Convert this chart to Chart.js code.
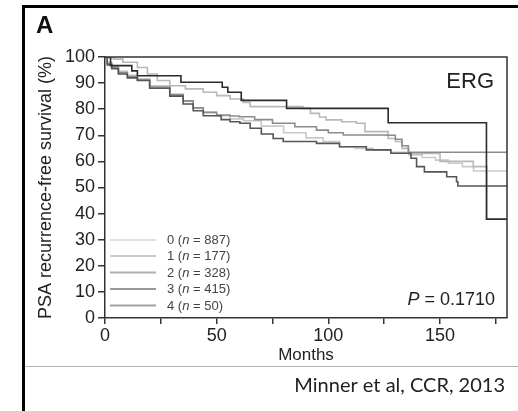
<!DOCTYPE html>
<html>
<head>
<meta charset="utf-8">
<script src="https://cdn.jsdelivr.net/npm/chart.js@4"></script>
<style>
  html, body { margin: 0; padding: 0; background: #fff; }
</style>
</head>
<body>
<canvas id="km" width="518" height="411"></canvas>
<script>
// --- KAPLAN-MEIER DATA ---
const groupLabels = ['0', '1', '2', '3', '4'];
const groupN = [887, 177, 328, 415, 50];

const months0 = [0, 1, 3, 6, 10, 14.5, 20, 29, 35, 39.5, 44, 50, 56, 62, 70, 80, 90, 97.7, 105, 112, 120, 128, 136, 142, 148, 153.7, 160, 165, 180];
const surv0   = [100, 98, 96.5, 94.5, 93, 91.6, 89, 85.8, 83, 80.5, 78.8, 77.5, 76.3, 75.6, 73.5, 71, 69, 67.6, 65.6, 65, 64.4, 63.5, 62.5, 61.5, 60.5, 59.3, 58, 56.3, 56.3];

const months1 = [0, 2, 4, 8, 14.5, 19, 23.4, 29, 36, 44, 50, 56, 62, 65, 88.6, 92, 96, 99, 106, 112.6, 116.4, 126.8, 130, 133, 136, 150, 164.9, 171];
const surv1   = [100, 99.5, 99.2, 98, 96, 93.5, 91, 89, 87.8, 86.5, 85.2, 83.9, 82.6, 81, 80.3, 78.4, 77, 75.9, 75.2, 74.6, 71.4, 68.8, 67.6, 65, 63, 60, 58, 37.9];

const months2 = [0, 1, 3, 6, 10, 14.5, 20, 29, 35, 39.5, 44, 50, 56, 60, 67, 75, 85, 94.7, 100, 106.7, 126, 130, 133, 135.8, 180];
const surv2   = [100, 97.5, 96, 94, 92.5, 91.2, 88.5, 85.5, 83.2, 80.5, 78.8, 77.8, 77.4, 77.1, 76, 74.6, 73.3, 72, 71, 70.1, 70, 68.5, 66, 63.5, 63.5];

const months3 = [0, 1, 3, 6, 10, 14.5, 20, 29, 35, 39.5, 44, 52, 56, 60.4, 65, 70, 75.3, 79.8, 94.7, 105, 117, 128, 137, 139.5, 143, 153, 157.4, 158, 180];
const surv3   = [100, 97, 95.5, 93.5, 92, 91, 88, 85, 82, 79.4, 77.5, 76, 75.2, 74.6, 72.7, 70.5, 68.8, 67.6, 66.9, 65.6, 64.4, 63.1, 61.2, 58, 56, 54.1, 52.2, 50.6, 50.6];

const months4 = [0, 2.5, 12, 14.5, 34, 52.5, 55, 61, 81.3, 126.8, 170.8, 180];
const surv4   = [100, 96.7, 94.7, 92.8, 90.3, 88.4, 86.5, 83.4, 80.3, 74.8, 37.9, 37.9];

const xTicks = [0, 25, 50, 75, 100, 125, 150, 175];
const xLabelled = [0, 50, 100, 150];
const yTicks = [0, 10, 20, 30, 40, 50, 60, 70, 80, 90, 100];

// --- STYLE ---
const curveColors = ['#c9c9c9', '#b8b8b8', '#8c8c8c', '#565656', '#2b2b2b'];
const legendColors = ['#e0e0e0', '#cacaca', '#b0b0b0', '#9a9a9a', '#a2a2a2'];
const axisColor = '#333';
const FONT = '"Liberation Sans", Arial, Helvetica, sans-serif';

const allMonths = [months0, months1, months2, months3, months4];
const allSurv = [surv0, surv1, surv2, surv3, surv4];

const datasets = allMonths.map((m, i) => ({
  label: groupLabels[i],
  data: m.map((t, k) => ({ x: t, y: allSurv[i][k] })),
  stepped: 'before',
  borderColor: curveColors[i],
  borderWidth: 1.6,
  pointRadius: 0,
  fill: false,
  order: 5 - i
}));

// figure decorations: panel frame, panel letter, legend, annotations
const decorPlugin = {
  id: 'decor',
  afterDraw(chart) {
    const ctx = chart.ctx;
    const a = chart.chartArea;
    ctx.save();

    // plot box (top + right)
    ctx.strokeStyle = axisColor;
    ctx.lineWidth = 1.5;
    ctx.beginPath();
    ctx.moveTo(a.left, a.top);
    ctx.lineTo(a.right, a.top);
    ctx.lineTo(a.right, a.bottom);
    ctx.stroke();

    // outer panel frame
    ctx.strokeStyle = '#000';
    ctx.lineWidth = 3;
    ctx.beginPath();
    ctx.moveTo(23.5, 411);
    ctx.lineTo(23.5, 6.5);
    ctx.lineTo(518, 6.5);
    ctx.stroke();

    // thin separator above citation
    ctx.strokeStyle = '#b4b4b4';
    ctx.lineWidth = 1;
    ctx.beginPath();
    ctx.moveTo(25, 366.5);
    ctx.lineTo(518, 366.5);
    ctx.stroke();

    // panel letter
    ctx.fillStyle = '#111';
    ctx.font = 'bold 24px ' + FONT;
    ctx.textBaseline = 'alphabetic';
    ctx.textAlign = 'left';
    ctx.fillText('A', 36, 33);

    // ERG label
    ctx.font = '22px ' + FONT;
    ctx.textAlign = 'right';
    ctx.fillStyle = '#222';
    ctx.fillText('ERG', 494, 88);

    // P value
    ctx.font = '18px ' + FONT;
    const pRest = ' = 0.1710';
    const restW = ctx.measureText(pRest).width;
    ctx.textAlign = 'left';
    ctx.fillText(pRest, 495 - restW, 305);
    ctx.font = 'italic 18px ' + FONT;
    const pW = ctx.measureText('P').width;
    ctx.fillText('P', 495 - restW - pW, 305);

    // legend
    const rowY = [240, 256, 272.5, 289, 305.5];
    groupLabels.forEach((g, i) => {
      const y = rowY[i];
      ctx.strokeStyle = legendColors[i];
      ctx.lineWidth = 2;
      ctx.beginPath();
      ctx.moveTo(110, y);
      ctx.lineTo(156, y);
      ctx.stroke();

      ctx.fillStyle = '#444';
      ctx.textBaseline = 'middle';
      let x = 167;
      const parts = [[g + ' (', ''], ['n', 'italic '], [' = ' + groupN[i] + ')', '']];
      parts.forEach(([txt, style]) => {
        ctx.font = style + '13px ' + FONT;
        ctx.fillText(txt, x, y + 0.5);
        x += ctx.measureText(txt).width;
      });
    });

    // citation
    ctx.fillStyle = '#222';
    ctx.font = '20px Lato, "Open Sans", sans-serif';
    ctx.textAlign = 'right';
    ctx.textBaseline = 'alphabetic';
    ctx.fillText('Minner et al, CCR, 2013', 505, 392);

    ctx.restore();
  }
};

new Chart(document.getElementById('km'), {
  type: 'line',
  data: { datasets: datasets },
  options: {
    responsive: false,
    animation: false,
    layout: { padding: { left: 36, top: 57, right: 11, bottom: 46 } },
    plugins: {
      legend: { display: false },
      tooltip: { enabled: false }
    },
    scales: {
      x: {
        type: 'linear',
        min: 0,
        max: 180,
        afterBuildTicks: (scale) => { scale.ticks = xTicks.map(v => ({ value: v })); },
        afterFit: (scale) => { scale.height = 47; },
        ticks: {
          autoSkip: false,
          maxRotation: 0,
          padding: 1,
          color: '#222',
          font: { family: FONT, size: 18 },
          callback: (v) => xLabelled.includes(v) ? String(v) : ''
        },
        grid: { display: true, drawOnChartArea: false, drawTicks: true, tickLength: 6, color: axisColor, lineWidth: 1.5 },
        border: { display: true, color: axisColor, width: 1.5 },
        title: { display: true, text: 'Months', color: '#222', font: { family: FONT, size: 17, lineHeight: 1.1 }, padding: 0 }
      },
      y: {
        min: 0,
        max: 100,
        afterBuildTicks: (scale) => { scale.ticks = yTicks.map(v => ({ value: v })); },
        afterFit: (scale) => { scale.width = 69; },
        ticks: {
          padding: 3,
          color: '#222',
          font: { family: FONT, size: 18 }
        },
        grid: { display: true, drawOnChartArea: false, drawTicks: true, tickLength: 7, color: axisColor, lineWidth: 1.5 },
        border: { display: true, color: axisColor, width: 1.5 },
        title: { display: true, text: 'PSA recurrence-free survival (%)', color: '#222', font: { family: FONT, size: 18, lineHeight: 1.1 }, padding: 0 }
      }
    }
  },
  plugins: [decorPlugin]
});
</script>
</body>
</html>
